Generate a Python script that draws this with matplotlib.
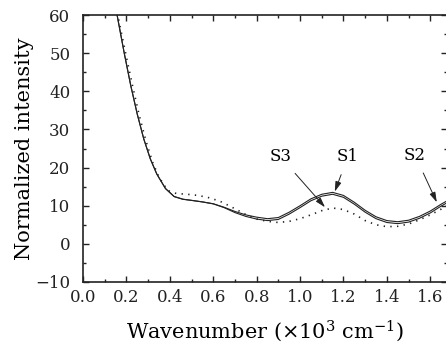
import matplotlib.pyplot as plt
from matplotlib.ticker import MultipleLocator

# values
wn_solid = [0.15, 0.157, 0.19, 0.22, 0.25, 0.28, 0.31, 0.34, 0.38, 0.42, 0.46,
            0.50, 0.55, 0.60, 0.65, 0.70, 0.75, 0.80, 0.85, 0.90, 0.95, 1.00,
            1.05, 1.10, 1.15, 1.20, 1.25, 1.30, 1.35, 1.40, 1.45, 1.50, 1.55,
            1.60, 1.65, 1.70]
s1 = [64.0, 60.0, 50.0, 41.5, 34.0, 27.5, 22.3, 18.3, 14.5, 12.4, 11.7,
      11.4, 11.0, 10.5, 9.6, 8.5, 7.6, 7.0, 6.6, 6.9, 8.3, 10.0,
      11.8, 13.0, 13.5, 12.7, 10.9, 8.8, 7.1, 6.1, 5.8, 6.2, 7.2,
      8.6, 10.4, 12.0]
s2 = [64.0, 60.0, 50.0, 41.5, 34.0, 27.5, 22.3, 18.3, 14.5, 12.4, 11.7,
      11.4, 11.0, 10.5, 9.5, 8.2, 7.2, 6.5, 6.1, 6.4, 7.8, 9.5,
      11.3, 12.5, 13.0, 12.2, 10.4, 8.3, 6.6, 5.6, 5.3, 5.7, 6.7,
      8.1, 9.9, 11.5]

wn_dot = [0.15, 0.16, 0.20, 0.23, 0.26, 0.29, 0.32, 0.35, 0.39, 0.43, 0.48,
          0.53, 0.58, 0.63, 0.68, 0.72, 0.76, 0.80, 0.85, 0.90, 0.95, 1.00,
          1.05, 1.10, 1.15, 1.20, 1.25, 1.30, 1.35, 1.40, 1.45, 1.50, 1.55,
          1.60, 1.65, 1.70]
s3 = [64.0, 60.0, 49.0, 41.0, 33.5, 27.0, 21.5, 17.5, 14.0, 13.2, 13.0,
      12.7, 12.1, 11.2, 9.8, 8.6, 7.4, 6.5, 5.9, 5.6, 5.9, 6.6,
      7.6, 8.7, 9.4, 9.0, 7.8, 6.1, 5.0, 4.5, 4.6, 5.2, 6.3,
      7.6, 9.1, 10.8]

labels = ['S3', 'S1', 'S2']
label_xy = [(0.91, 22.8), (1.22, 22.8), (1.53, 23.2)]
tip_xy = [(1.115, 9.6), (1.16, 13.7), (1.63, 10.9)]

plt.rcParams['font.family'] = 'DejaVu Serif'
plt.rcParams['mathtext.fontset'] = 'dejavuserif'

fig = plt.figure(figsize=(4.46, 3.58), dpi=100)
ax = fig.add_axes([83 / 446, 1 - 282 / 358, 364 / 446, 267 / 358])

ax.plot(wn_solid, s1, color='#222222', lw=0.8)
ax.plot(wn_solid, s2, color='#222222', lw=0.8)
ax.plot(wn_dot, s3, color='#222222', lw=1.2, linestyle=(0, (0.8, 3.2)))

for lab, txy, pxy in zip(labels, label_xy, tip_xy):
    ax.annotate(lab, xy=pxy, xytext=txy, fontsize=12, ha='center', va='center',
                arrowprops=dict(arrowstyle='-|>,head_length=0.5,head_width=0.15',
                                color='#222222', lw=0.7, shrinkA=5, shrinkB=0))

ax.set_xlim(0, 1.677)
ax.set_ylim(-10, 60)
ax.xaxis.set_major_locator(MultipleLocator(0.2))
ax.xaxis.set_minor_locator(MultipleLocator(0.1))
ax.yaxis.set_major_locator(MultipleLocator(10))
ax.yaxis.set_minor_locator(MultipleLocator(5))
ax.xaxis.set_major_formatter(plt.FuncFormatter(lambda v, p: f'{v:.1f}'))
ax.tick_params(which='both', direction='in', top=True, right=True,
               labelsize=12, width=1.0, colors='#222222')
ax.tick_params(which='major', length=4)
ax.tick_params(axis='x', which='major', pad=5)
ax.tick_params(axis='y', which='major', pad=9)
ax.tick_params(which='minor', length=2.5)
for sp in ax.spines.values():
    sp.set_linewidth(1.2)
    sp.set_color('#222222')

ax.set_xlabel(r'Wavenumber ($\times$10$^{3}$ cm$^{-1}$)', fontsize=15, labelpad=9)
ax.set_ylabel('Normalized intensity', fontsize=15, labelpad=1)

fig.savefig('out.png', dpi=100)
